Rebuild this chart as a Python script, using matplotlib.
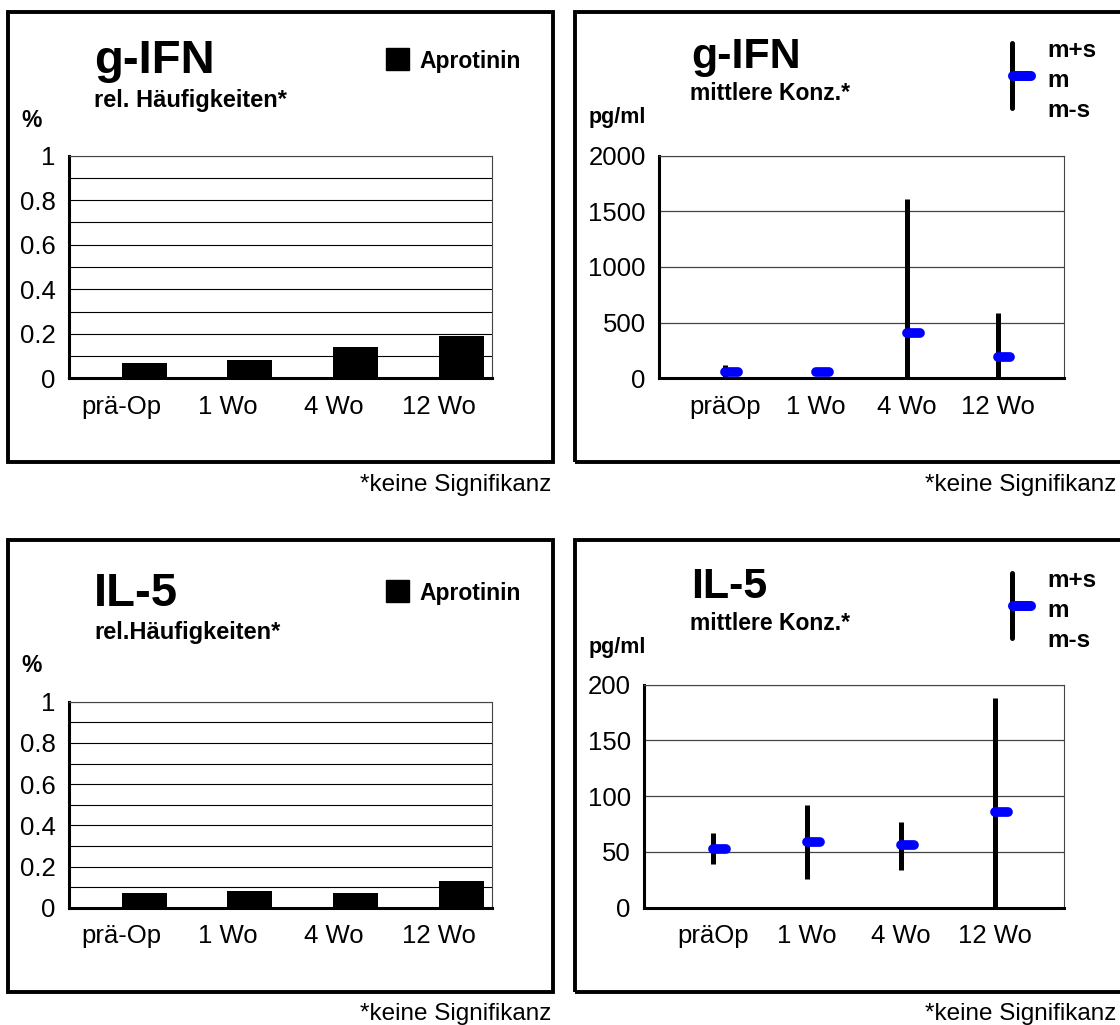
import numpy as np
import matplotlib
matplotlib.use("Agg")
import matplotlib.pyplot as plt
from matplotlib.patches import Rectangle
from matplotlib.lines import Line2D
from matplotlib.ticker import FormatStrFormatter

plt.rcParams['font.family'] = ['Liberation Sans', 'DejaVu Sans']

# Data

# relative frequencies (bar charts, left)
categories_pct = ['prä-Op', '1 Wo', '4 Wo', '12 Wo']
ifn_pct = [0.07, 0.08, 0.14, 0.19]
il5_pct = [0.07, 0.08, 0.07, 0.13]

# mean concentrations with m+s / m-s (right)
categories_conc = ['präOp', '1 Wo', '4 Wo', '12 Wo']
ifn_mean = [60, 55, 405, 192]
ifn_high = [120, 75, 1610, 585]
ifn_low = [0, 35, 0, 0]
il5_mean = [53, 59, 56, 86]
il5_high = [67, 92, 77, 188]
il5_low = [39, 26, 34, 0]

W, H = 1120, 1025
fig = plt.figure(figsize=(W / 100, H / 100), dpi=100)


def fx(x):
    return x / W


def fy(y):
    return 1 - y / H


def add_ax(x0, x1, y0, y1):
    ax = fig.add_axes([fx(x0), fy(y1), (x1 - x0) / W, (y1 - y0) / H])
    ax.spines['left'].set_linewidth(2.2)
    ax.spines['bottom'].set_linewidth(2.2)
    for s in ['top', 'right']:
        ax.spines[s].set_linewidth(0.8)
        ax.spines[s].set_color('#444444')
    ax.tick_params(length=0, labelsize=18.5, pad=9.5)
    ax.tick_params(axis='x', pad=12)
    ax.set_axisbelow(True)
    return ax


def frame(x0, x1, y0, y1):
    fig.add_artist(Rectangle((fx(x0), fy(y1)), (x1 - x0) / W, (y1 - y0) / H,
                             transform=fig.transFigure, fill=False,
                             lw=2.8, edgecolor='black'))


def bar_panel(ax, values, cats):
    x = np.arange(len(cats))
    ax.bar(x + 0.21, values, width=0.425, color='black')
    ax.set_xlim(-0.5, 3.5)
    ax.set_ylim(0, 1)
    ax.set_xticks(x)
    ax.set_xticklabels(cats)
    ax.set_yticks(np.arange(0, 1.01, 0.2))
    ax.set_yticks(np.arange(0.1, 1.0, 0.2), minor=True)
    ax.tick_params(which='minor', length=0)
    ax.yaxis.set_major_formatter(FormatStrFormatter('%g'))
    ax.grid(axis='y', which='both', color='black', lw=0.8)


def conc_panel(ax, mean, high, low, cats, ymax, step):
    x = np.arange(len(cats))
    ax.vlines(x, low, high, color='black', lw=3.6, zorder=3)
    for i in range(len(x)):
        ax.plot([x[i], x[i] + 0.14], [mean[i], mean[i]], color='#0000ff',
                lw=7, solid_capstyle='round', zorder=4)
    ax.set_xlim(-0.73, 3.73)
    ax.set_ylim(0, ymax)
    ax.set_xticks(x)
    ax.set_xticklabels(cats)
    ax.set_yticks(np.arange(0, ymax + 1, step))
    ax.grid(axis='y', color='#444444', lw=0.9)


def bar_texts(title, sub, dy, title_y, pct_y):
    fig.text(fx(94), fy(title_y), title, fontsize=34, fontweight='bold', va='baseline')
    fig.text(fx(94), fy(107 + dy), sub, fontsize=17, fontweight='bold', va='baseline')
    fig.text(fx(21), fy(pct_y), '%', fontsize=16.5, fontweight='bold', va='baseline')
    fig.add_artist(Rectangle((fx(386), fy(70 + dy)), 23 / W, 22 / H,
                             transform=fig.transFigure, color='black'))
    fig.text(fx(419), fy(68 + dy), 'Aprotinin', fontsize=16.5, fontweight='bold', va='baseline')


def conc_texts(title, dy):
    fig.text(fx(691), fy(68 + dy), title, fontsize=31, fontweight='bold', va='baseline')
    fig.text(fx(690), fy(100 + dy), 'mittlere Konz.*', fontsize=16.5, fontweight='bold', va='baseline')
    fig.text(fx(589), fy(123 + dy), 'pg/ml', fontsize=15.5, fontweight='bold', va='baseline')
    # legend: m+s / m / m-s
    fig.add_artist(Line2D([fx(1012), fx(1012)], [fy(43 + dy), fy(108 + dy)],
                          transform=fig.transFigure, color='black', lw=3.6,
                          solid_capstyle='round'))
    fig.add_artist(Line2D([fx(1012.5), fx(1030.5)], [fy(76 + dy), fy(76 + dy)],
                          transform=fig.transFigure, color='#0000ff', lw=7.2,
                          solid_capstyle='round'))
    for lab, yy in zip(['m+s', 'm', 'm-s'], [56.7, 86.7, 117.3]):
        fig.text(fx(1047), fy(yy + dy), lab, fontsize=17.5, fontweight='bold', va='baseline')


# frames
frame(8, 553, 12, 462)
frame(575, 1130, 12, 462)
frame(8, 553, 540, 991.7)
frame(575, 1130, 540, 991.7)

# top left: g-IFN frequencies
ax1 = add_ax(69, 492, 155.7, 378.3)
bar_panel(ax1, ifn_pct, categories_pct)
bar_texts('g-IFN', 'rel. Häufigkeiten*', 0, 73, 126.7)

# top right: g-IFN concentration
ax2 = add_ax(659, 1064, 155.7, 378.3)
conc_panel(ax2, ifn_mean, ifn_high, ifn_low, categories_conc, 2000, 500)
conc_texts('g-IFN', 0)

# bottom left: IL-5 frequencies
ax3 = add_ax(69, 492, 701.7, 907.7)
bar_panel(ax3, il5_pct, categories_pct)
bar_texts('IL-5', 'rel.Häufigkeiten*', 532, 606, 671.7)

# bottom right: IL-5 concentration
ax4 = add_ax(644, 1064, 684.5, 907.7)
conc_panel(ax4, il5_mean, il5_high, il5_low, categories_conc, 200, 50)
conc_texts('IL-5', 530)

# footnotes
for xr, yb in [(551, 491), (1116, 491), (551, 1020), (1116, 1020)]:
    fig.text(fx(xr), fy(yb), '*keine Signifikanz', fontsize=17.5, ha='right', va='baseline')

plt.savefig('out.png', dpi=100)
